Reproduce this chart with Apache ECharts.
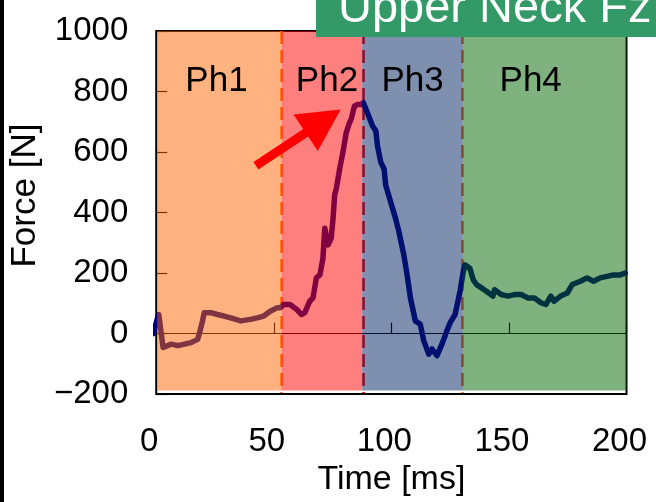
<!DOCTYPE html>
<html>
<head>
<meta charset="utf-8">
<script src="https://cdn.jsdelivr.net/npm/echarts@6/dist/echarts.min.js"></script>
<style>
  html, body { margin: 0; padding: 0; background: #fff; }
  #chart { width: 656px; height: 502px; }
</style>
</head>
<body>
<div id="chart"></div>
<script>
// Upper neck axial force over time [ms, N]
const timeMs = [-2.3, -1.2, 0.5, 1.1, 2.9, 3.6, 6.4, 9.2, 12.0, 14.8, 17.6, 18.3, 19.7, 20.4, 23.2, 26.0, 28.8, 31.7, 35.9, 40.1,
  42.9, 45.7, 48.5, 51.3, 52.7, 54.1, 56.9, 59.7, 61.8, 63.2, 65.3, 66.7, 68.1, 69.6, 70.9, 71.7, 73.1, 74.4, 75.2, 75.9,
  76.6, 78.0, 79.4, 80.8, 82.2, 82.9, 84.3, 85.7, 87.1, 88.1, 88.5, 90.6, 92.0, 93.4, 94.1, 95.5, 96.9, 97.6, 99.7, 101.8,
  103.2, 105.3, 106.7, 108.1, 110.2, 112.3, 113.8, 115.9, 117.3, 119.4, 121.5, 123.6, 125.0, 127.1, 129.2, 130.6, 131.3, 133.4, 134.8, 136.2,
  138.3, 140.4, 143.2, 143.9, 146.7, 149.6, 152.3, 155.2, 158.0, 160.8, 163.6, 165.7, 167.8, 169.2, 172.0, 174.8, 176.9, 180.4, 183.2, 186.0,
  188.8, 191.7, 194.5, 197.3, 199.4];
const forceN = [15, 0, 50, 63, -46, -51, -35, -40, -35, -30, -19, -2, 42, 69, 69, 63, 58, 52, 42, 47,
  52, 58, 74, 85, 85, 96, 96, 80, 63, 69, 107, 118, 184, 194, 249, 348, 293, 315, 380, 460,
  479, 544, 599, 664, 697, 708, 752, 757, 757, 763, 763, 714, 686, 670, 621, 566, 544, 490, 435, 380,
  337, 260, 194, 118, 42, 31, -24, -68, -51, -73, -35, 9, 36, 63, 140, 205, 227, 216, 178, 162,
  151, 140, 124, 145, 129, 124, 129, 129, 118, 118, 102, 96, 124, 107, 124, 134, 162, 173, 184, 173,
  184, 189, 194, 194, 200];

// Axis ranges
const xRange = { min: 0, max: 200, interval: 50 };
const yRange = { min: -200, max: 1000, interval: 200 };

// Phases: shaded spans and the dashed boundaries between them
const phaseNames = ['Ph1', 'Ph2', 'Ph3', 'Ph4'];
const phaseSpans = [0.4, 53.4, 87.6, 130.4, 200];
const boundaryTimes = [53, 88, 130];
const phaseFills = ['rgba(255,102,0,0.5)', 'rgba(255,0,0,0.5)', 'rgba(0,32,96,0.5)', 'rgba(0,102,0,0.5)'];
const phaseLabelShift = [-3, 5, 0, -14];
const boundaryColors = ['#ff6600', '#ff0000', '#ff6600'];

// Peak annotation arrow [ms, N]
const arrowTail = [42.4, 555];
const arrowHead = [71.0, 702];

const titleText = 'Upper Neck Fz';

const FONT = '"Liberation Sans", Arial, sans-serif';
const chart = echarts.init(document.getElementById('chart'), null, { renderer: 'canvas' });

const lineData = timeMs.map((t, i) => [t, forceN[i]]);

const overlayData = phaseNames.map((name, i) => [
  {
    name: name,
    xAxis: phaseSpans[i],
    yAxis: -188,
    itemStyle: { color: phaseFills[i] },
    label: { offset: [phaseLabelShift[i], 0] }
  },
  { xAxis: phaseSpans[i + 1], yAxis: yRange.max }
]);

const boundaryLines = [];
boundaryColors.forEach((c, i) => {
  const x = boundaryTimes[i];
  boundaryLines.push([
    { coord: [x, yRange.max], lineStyle: { color: c, type: [13, 6], width: 2.5 } },
    { coord: [x, -196] }
  ]);
  boundaryLines.push([
    { coord: [x, -196], lineStyle: { color: c, type: 'solid', width: 2.5 } },
    { coord: [x, -224] }
  ]);
});

const option = {
  animation: false,
  backgroundColor: '#fff',
  grid: {
    left: 151.5, right: 29.5, top: 31, bottom: 105,
    show: true, borderColor: '#000', borderWidth: 2, backgroundColor: 'transparent'
  },
  xAxis: [
    {
      type: 'value', min: xRange.min, max: xRange.max, interval: xRange.interval, position: 'bottom',
      axisLine: { show: false, onZero: false }, axisTick: { show: false }, splitLine: { show: false },
      axisLabel: { fontSize: 33, color: '#000', fontFamily: FONT, margin: 31, padding: [0, 14, 0, 0] },
      name: 'Time [ms]', nameLocation: 'middle', nameGap: 66,
      nameTextStyle: { fontSize: 34, color: '#000', fontFamily: FONT }
    },
    {
      type: 'value', min: xRange.min, max: xRange.max, interval: xRange.interval, position: 'bottom',
      axisLine: { show: true, onZero: true, lineStyle: { color: '#000', width: 1.2 } },
      axisTick: { show: true, inside: true, length: 11, lineStyle: { color: '#000', width: 1.2 } },
      axisLabel: { show: false }, splitLine: { show: false }
    }
  ],
  yAxis: {
    type: 'value', min: yRange.min, max: yRange.max, interval: yRange.interval,
    axisLine: { show: false, onZero: false },
    axisTick: { show: true, inside: true, length: 11, lineStyle: { color: '#000', width: 1.2 } },
    splitLine: { show: false },
    axisLabel: {
      fontSize: 33, color: '#000', fontFamily: FONT, margin: 28,
      formatter: v => String(v).replace('-', '\u2212')
    },
    name: 'Force [N]', nameLocation: 'middle', nameGap: 104,
    nameTextStyle: { fontSize: 35, color: '#000', fontFamily: FONT, padding: [0, 0, 0, 34] }
  },
  series: [
    {
      type: 'line', data: lineData, showSymbol: false, symbol: 'none', clip: false, z: 2, silent: true,
      lineStyle: { color: '#000080', width: 5.5, cap: 'round', join: 'round' }
    },
    {
      type: 'line', data: [], clip: false, z: 2, silent: true,
      markLine: { z: 1, silent: true, symbol: ['none', 'none'], label: { show: false }, data: boundaryLines }
    },
    {
      type: 'line', data: [], z: 3, silent: true,
      markArea: {
        z: 3,
        silent: true,
        label: {
          show: true, position: 'insideTop', distance: 33,
          fontSize: 35, color: '#000', fontFamily: FONT
        },
        data: overlayData
      }
    },
    {
      type: 'line', data: [], clip: false, z: 6, silent: true,
      markLine: {
        z: 6,
        silent: true, symbol: ['none', 'triangle'], symbolSize: [44, 42],
        label: { show: false },
        lineStyle: { color: '#ff0000', width: 9, type: 'solid', opacity: 1 },
        data: [[{ coord: arrowTail }, { coord: arrowHead }]]
      }
    }
  ],
  graphic: [
    { type: 'rect', z: 100, shape: { x: 0, y: 0, width: 4, height: 502 }, style: { fill: '#000' } },
    { type: 'rect', z: 100, shape: { x: 316, y: -6, width: 345, height: 43 }, style: { fill: '#339966' } },
    {
      type: 'text', z: 101, x: 338, y: 9,
      style: { text: titleText, fill: '#fff', fontSize: 47, fontFamily: FONT, verticalAlign: 'middle' }
    }
  ]
};

chart.setOption(option);
</script>
</body>
</html>
